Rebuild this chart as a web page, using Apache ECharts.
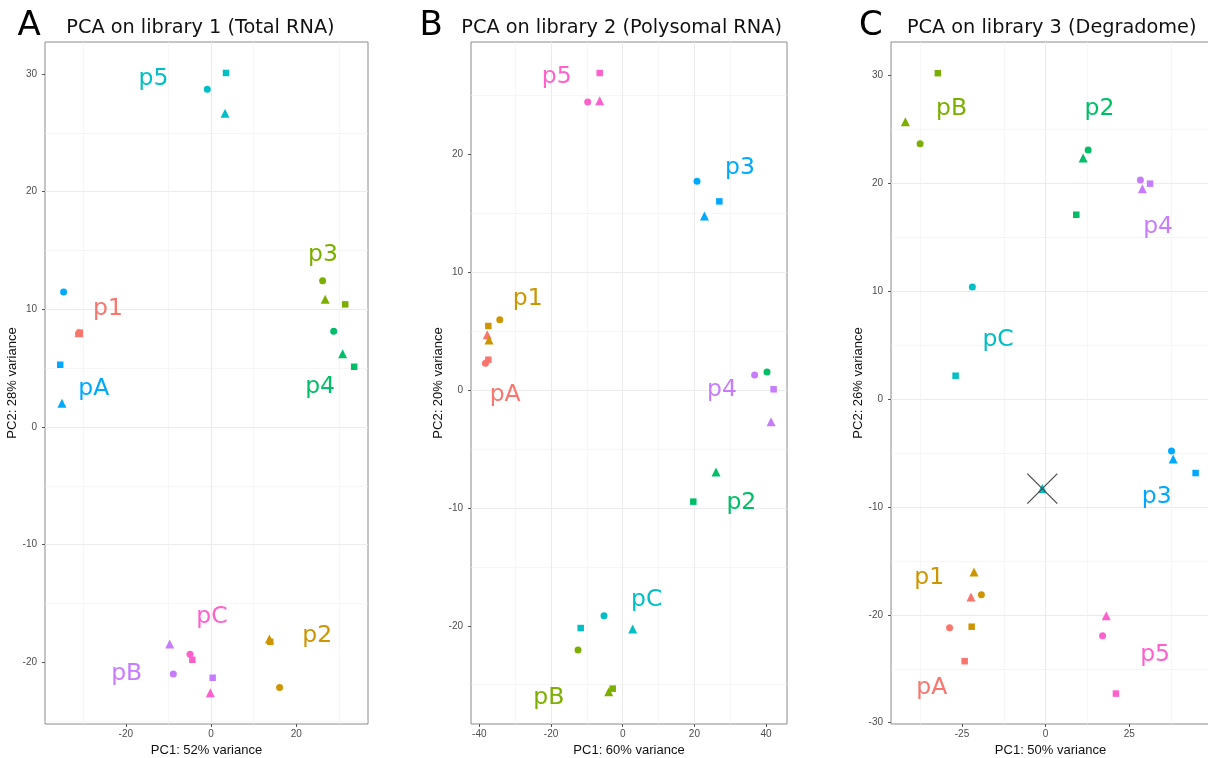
<!DOCTYPE html>
<html><head><meta charset="utf-8">
<script src="https://cdn.jsdelivr.net/npm/echarts@6/dist/echarts.min.js"></script>
<style>html,body{margin:0;padding:0;background:#fff}#c{width:1208px;height:758px}</style>
</head><body><div id="c"></div>
<script>
// ggplot hue palette (8 groups)
const palette = ['#F8766D','#CD9600','#7CAE00','#00BE67','#00BFC4','#00A9FF','#C77CFF','#FF61CC'];

// ---------- Panel A : library 1 (Total RNA) ----------
const groupsA   = ['p1','p2','p3','p4','p5','pA','pB','pC'];
const circleA   = [[-31.1,7.95],[16.1,-22.12],[26.2,12.43],[28.8,8.13],[-0.87,28.69],[-34.6,11.47],[-8.85,-20.99],[-4.93,-19.31]];
const triangleA = [[-31.0,8.0],[13.7,-18.0],[26.8,10.85],[30.9,6.23],[3.29,26.65],[-35.0,2.01],[-9.7,-18.44],[-0.16,-22.57]];
const squareA   = [[-30.8,8.02],[13.9,-18.25],[31.5,10.42],[33.6,5.12],[3.52,30.08],[-35.4,5.29],[0.39,-21.3],[-4.39,-19.77]];
const labelA    = [[-24.2,10.0],[24.95,-17.76],[26.3,14.6],[25.6,3.37],[-13.5,29.6],[-27.5,3.2],[-19.8,-21.0],[0.23,-16.1]];
const xTicksA   = [-20,0,20];
const yTicksA   = [-20,-10,0,10,20,30];

// ---------- Panel B : library 2 (Polysomal RNA) ----------
const groupsB   = ['pA','p1','pB','p2','pC','p3','p4','p5'];
const circleB   = [[-38.3,2.26],[-34.3,5.97],[-12.47,-22.05],[40.26,1.53],[-5.22,-19.14],[20.73,17.7],[36.8,1.27],[-9.77,24.43]];
const triangleB = [[-37.8,4.69],[-37.3,4.24],[-3.91,-25.6],[26.03,-6.96],[2.79,-20.27],[22.8,14.76],[41.4,-2.69],[-6.42,24.54]];
const squareB   = [[-37.5,2.57],[-37.5,5.43],[-2.79,-25.33],[19.7,-9.47],[-11.72,-20.19],[26.96,16.0],[42.1,0.06],[-6.42,26.89]];
const labelB    = [[-32.8,-0.45],[-26.5,7.69],[-20.6,-26.1],[33.1,-9.6],[6.7,-17.8],[32.7,18.85],[27.7,0.0],[-18.4,26.6]];
const xTicksB   = [-40,-20,0,20,40];
const yTicksB   = [-20,-10,0,10,20];

// ---------- Panel C : library 3 (Degradome) ----------
const groupsC   = ['pA','p1','pB','p2','pC','p3','p4','p5'];
const circleC   = [[-28.7,-21.2],[-19.2,-18.14],[-37.5,23.66],[12.7,23.08],[-21.9,10.38],[37.6,-4.82],[28.3,20.3],[17.0,-21.94]];
const triangleC = [[-22.3,-18.35],[-21.4,-16.03],[-41.9,25.7],[11.2,22.34],[-1.0,-8.3],[38.1,-5.56],[28.9,19.5],[18.1,-20.08]];
const squareC   = [[-24.2,-24.3],[-22.1,-21.1],[-32.2,30.2],[9.15,17.08],[-26.9,2.16],[44.8,-6.86],[31.2,19.96],[21.0,-27.3]];
const labelC    = [[-34.0,-26.8],[-34.8,-16.6],[-28.1,26.9],[16.1,26.85],[-14.2,5.47],[33.2,-9.08],[33.6,15.97],[32.7,-23.7]];
const crossC    = [[-1.0,-8.3]];
const xTicksC   = [-25,0,25];
const yTicksC   = [-30,-20,-10,0,10,20,30];

const panels = [
  {letter:'A', title:'PCA on library 1 (Total RNA)', xName:'PC1: 52% variance', yName:'PC2: 28% variance',
   groups:groupsA, circle:circleA, triangle:triangleA, square:squareA, label:labelA, xTicks:xTicksA, yTicks:yTicksA,
   xr:[-38.97,36.85], yr:[-25.23,32.71], xs:20, ys:10, grid:{left:45, top:42, width:323, height:682}, lx:17.5, tx:66.3},
  {letter:'B', title:'PCA on library 2 (Polysomal RNA)', xName:'PC1: 60% variance', yName:'PC2: 20% variance',
   groups:groupsB, circle:circleB, triangle:triangleB, square:squareB, label:labelB, xTicks:xTicksB, yTicks:yTicksB,
   xr:[-42.33,45.84], yr:[-28.33,29.52], xs:20, ys:10, grid:{left:471, top:42, width:316, height:682}, lx:419.4, tx:461.3},
  {letter:'C', title:'PCA on library 3 (Degradome)', xName:'PC1: 50% variance', yName:'PC2: 26% variance',
   groups:groupsC, circle:circleC, triangle:triangleC, square:squareC, label:labelC, xTicks:xTicksC, yTicks:yTicksC,
   xr:[-46.2,49.1], yr:[-30.12,33.09], xs:25, ys:10, grid:{left:891, top:42, width:319, height:682}, lx:859, tx:906.9}
];

const AX_FONT = 'Liberation Sans';
const TXT_FONT = 'DejaVu Sans';

function axisCfg(i, isX, p) {
  const ticks = isX ? p.xTicks : p.yTicks;
  const step = isX ? p.xs : p.ys;
  const r = isX ? p.xr : p.yr;
  return {
    type:'value', gridIndex:i, min:r[0], max:r[1], minInterval:step, maxInterval:step,
    axisLine:{show:false, onZero:false},
    axisTick:{show:true, length:3, customValues:ticks, lineStyle:{color:'#555', width:1}},
    axisLabel:{show:true, customValues:ticks, color:'#4d4d4d', fontSize:10, fontFamily:AX_FONT, margin: isX?5:8,
      formatter: v => (ticks.some(t => Math.abs(t - v) < 1e-6) ? String(Math.round(v)) : '')},
    splitLine:{show:true, showMinLine:false, showMaxLine:false, lineStyle:{color:'#ebebeb', width:1}},
    minorTick:{show:false, splitNumber:2},
    minorSplitLine:{show:true, lineStyle:{color:'#f0f0f0', width:0.6}},
    name: isX ? p.xName : p.yName, nameLocation:'middle', nameGap: isX ? 24 : 32, nameRotate: isX ? 0 : 90,
    nameTextStyle:{color:'#111', fontSize:13, fontFamily:AX_FONT, verticalAlign:'middle', align:'center'}
  };
}

const grids = [], xAxes = [], yAxes = [], series = [], graphics = [];
panels.forEach((p, i) => {
  grids.push(Object.assign({show:true, borderColor:'#8a8a8a', borderWidth:1, backgroundColor:'#fff', containLabel:false, outerBoundsMode:'none'}, p.grid));
  xAxes.push(axisCfg(i, true, p));
  yAxes.push(axisCfg(i, false, p));
  const shapes = [['circle','circle',7],['triangle','triangle',9],['square','rect',6.5]];
  shapes.forEach(([key, sym, size]) => {
    series.push({type:'scatter', xAxisIndex:i, yAxisIndex:i, symbol:sym, symbolSize:size, silent:true, z:3,
      itemStyle:{opacity:1},
      data: p[key].map((c, j) => ({value:c, name:p.groups[j], itemStyle:{color:palette[j], opacity:1}}))});
  });
  series.push({type:'scatter', xAxisIndex:i, yAxisIndex:i, symbolSize:0, silent:true, z:4,
    itemStyle:{opacity:1},
    label:{show:true, position:'inside', formatter:'{b}', fontSize:23.5, fontFamily:TXT_FONT, opacity:1},
    data: p.label.map((c, j) => ({value:c, name:p.groups[j], itemStyle:{color:palette[j], opacity:1}, label:{color:palette[j], opacity:1}}))});
  graphics.push({type:'text', x:p.lx, y:26.5, style:{text:p.letter, fontSize:34, fontFamily:TXT_FONT, fill:'#000', verticalAlign:'middle', textVerticalAlign:'middle', align:'left'}});
  graphics.push({type:'text', x:p.tx, y:27.5, style:{text:p.title, fontSize:19.3, fontFamily:TXT_FONT, fill:'#111', verticalAlign:'middle', textVerticalAlign:'middle', align:'left'}});
});
series.push({type:'scatter', xAxisIndex:2, yAxisIndex:2, symbol:'path://M0,0L30,30M30,0L0,30', symbolSize:30, silent:true, z:5,
  itemStyle:{color:'transparent', borderColor:'#4a4a4a', borderWidth:1.2, opacity:1}, data:crossC});

const chart = echarts.init(document.getElementById('c'), null, {renderer:'canvas'});
chart.setOption({animation:false, backgroundColor:'#fff', grid:grids, xAxis:xAxes, yAxis:yAxes, series:series, graphic:graphics});
</script></body></html>
